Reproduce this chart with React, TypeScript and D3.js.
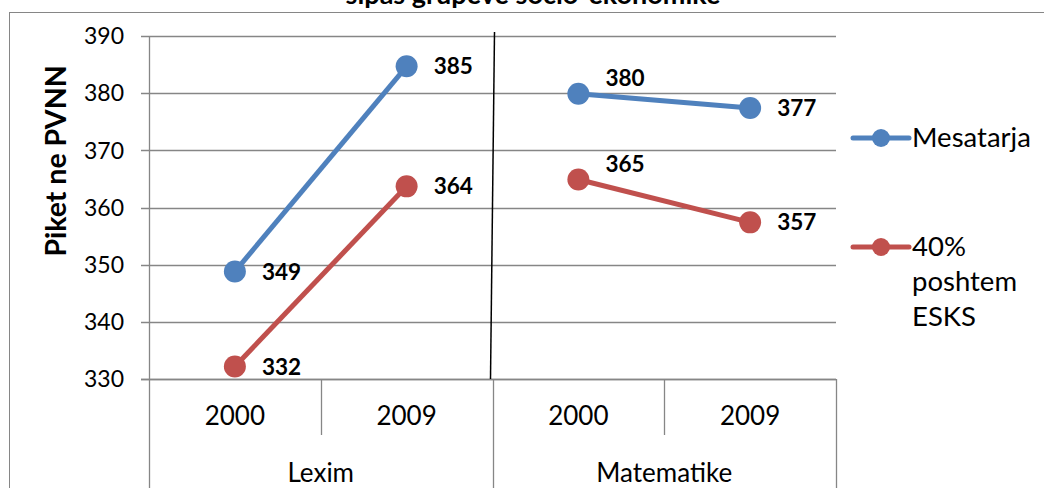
import React, { useEffect, useRef } from "react";
import * as d3 from "d3";

// chart values
const subjects = ["Lexim", "Matematike"];
const years = ["2000", "2009"];
const seriesNames = ["Mesatarja", "40% poshtem ESKS"];
const mesatarja = [348.8, 384.7, 379.9, 377.4];
const poshtem = [332.2, 363.7, 364.9, 357.4];
const yTicks = [330, 340, 350, 360, 370, 380, 390];
const title = "sipas grupeve socio-ekonomike";
const yTitle = "Piket ne PVNN";

const colors = ["#4F81BD", "#C0504D"];
const gridColor = "#868686";
const font = "Lato, 'Open Sans', sans-serif";
// manual label lift (px) per category, the 2000 Matematike labels sit higher
const labelLift = [0, 0, 16, 0];

export default function App() {
  const ref = useRef<SVGSVGElement>(null);

  const width = 1044;
  const height = 488;
  const margin = { top: 36, right: 208, bottom: 109, left: 149 };

  useEffect(() => {
    const svg = d3.select(ref.current);
    svg.selectAll("*").remove();

    const cats = subjects.flatMap((s) => years.map((y) => s + "|" + y));
    const x = d3
      .scaleBand()
      .domain(cats)
      .range([margin.left, width - margin.right])
      .padding(0);
    const y = d3
      .scaleLinear()
      .domain([330, 390])
      .range([height - margin.bottom, margin.top]);
    const x0 = margin.left;
    const x1 = width - margin.right;
    const yBase = y(330);

    // outer chart border
    svg
      .append("rect")
      .attr("x", 9.5)
      .attr("y", 12.5)
      .attr("width", width + 20)
      .attr("height", height + 20)
      .attr("fill", "white")
      .attr("stroke", gridColor)
      .attr("stroke-width", 1);

    // title (its first line lies above the visible area)
    svg
      .append("text")
      .attr("x", 533)
      .attr("y", 4)
      .attr("text-anchor", "middle")
      .attr("font-family", font)
      .attr("font-weight", "bold")
      .attr("font-size", 27)
      .text(title);

    // gridlines + y ticks
    const yg = svg.append("g");
    yTicks.forEach((t) => {
      yg.append("line")
        .attr("x1", x0 - 8)
        .attr("x2", x1)
        .attr("y1", Math.round(y(t)) + 0.5)
        .attr("y2", Math.round(y(t)) + 0.5)
        .attr("stroke", gridColor)
        .attr("stroke-width", 1.3);
      yg.append("text")
        .attr("x", 124)
        .attr("y", y(t))
        .attr("dy", "0.36em")
        .attr("text-anchor", "end")
        .attr("font-family", font)
        .attr("font-size", 23)
        .attr("fill", "#000")
        .text(t);
    });
    yg.append("line")
      .attr("x1", x0 + 0.5)
      .attr("x2", x0 + 0.5)
      .attr("y1", y(390))
      .attr("y2", yBase)
      .attr("stroke", gridColor)
      .attr("stroke-width", 1.3);

    svg
      .append("text")
      .attr("transform", `translate(66,161) rotate(-90)`)
      .attr("text-anchor", "middle")
      .attr("font-family", font)
      .attr("font-weight", "bold")
      .attr("font-size", 28.5)
      .text(yTitle);

    // x axis: two-level category axis
    const xg = svg.append("g");
    cats.forEach((c, i) => {
      const left = x(c)!;
      const isGroupEdge = i % years.length === 0;
      xg.append("line")
        .attr("x1", Math.round(left) + 0.5)
        .attr("x2", Math.round(left) + 0.5)
        .attr("y1", yBase)
        .attr("y2", isGroupEdge ? height : yBase + 56)
        .attr("stroke", gridColor)
        .attr("stroke-width", 1.3);
      xg.append("text")
        .attr("x", left + x.bandwidth() / 2)
        .attr("y", yBase + 46)
        .attr("text-anchor", "middle")
        .attr("font-family", font)
        .attr("font-size", 26)
        .text(c.split("|")[1]);
    });
    xg.append("line")
      .attr("x1", x1 + 0.5)
      .attr("x2", x1 + 0.5)
      .attr("y1", yBase)
      .attr("y2", height)
      .attr("stroke", gridColor)
      .attr("stroke-width", 1.3);
    subjects.forEach((s) => {
      const a = x(s + "|" + years[0])!;
      xg.append("text")
        .attr("x", a + x.bandwidth())
        .attr("y", yBase + 103)
        .attr("text-anchor", "middle")
        .attr("font-family", font)
        .attr("font-size", 26)
        .text(s);
    });
    xg.append("line")
      .attr("x1", x0 - 8)
      .attr("x2", x1)
      .attr("y1", Math.round(yBase) + 0.5)
      .attr("y2", Math.round(yBase) + 0.5)
      .attr("stroke", gridColor)
      .attr("stroke-width", 1.3);

    // hand-drawn separator between subjects
    const sep = x(subjects[1] + "|" + years[0])!;
    svg
      .append("line")
      .attr("x1", sep + 2)
      .attr("y1", 32)
      .attr("x2", sep - 2)
      .attr("y2", yBase)
      .attr("stroke", "#000")
      .attr("stroke-width", 1.5);

    // series
    const series = [mesatarja, poshtem];
    const cx = (i: number) => x(cats[i])! + x.bandwidth() / 2;
    series.forEach((vals, si) => {
      const g = svg.append("g");
      subjects.forEach((s, k) => {
        const idx = years.map((_, j) => k * years.length + j);
        g.append("path")
          .datum(idx)
          .attr(
            "d",
            d3
              .line<number>()
              .x((i) => cx(i))
              .y((i) => y(vals[i]))
          )
          .attr("fill", "none")
          .attr("stroke", colors[si])
          .attr("stroke-width", 5);
      });
      g.selectAll("circle")
        .data(vals)
        .enter()
        .append("circle")
        .attr("cx", (d, i) => cx(i))
        .attr("cy", (d) => y(d))
        .attr("r", 11)
        .attr("fill", colors[si]);
      g.selectAll("text")
        .data(vals)
        .enter()
        .append("text")
        .attr("x", (d, i) => cx(i) + 27)
        .attr("y", (d, i) => y(d) - labelLift[i])
        .attr("dy", "0.36em")
        .attr("font-family", font)
        .attr("font-weight", "bold")
        .attr("font-size", 22.5)
        .text((d) => d3.format(".0f")(d));
    });

    // legend
    const lg = svg.append("g");
    const legendY = [138, 247];
    seriesNames.forEach((name, si) => {
      const ly = legendY[si];
      lg.append("line")
        .attr("x1", 853)
        .attr("x2", 909)
        .attr("y1", ly)
        .attr("y2", ly)
        .attr("stroke", colors[si])
        .attr("stroke-width", 5)
        .attr("stroke-linecap", "round");
      lg.append("circle")
        .attr("cx", 881)
        .attr("cy", ly)
        .attr("r", 9)
        .attr("fill", colors[si]);
      const words = si === 0 ? [name] : ["40%", "poshtem", "ESKS"];
      words.forEach((w, j) => {
        lg.append("text")
          .attr("x", 912)
          .attr("y", ly + 9 + j * 35)
          .attr("font-family", font)
          .attr("font-size", 27.5)
          .text(w);
      });
    });
  }, []);

  return (
    <svg
      ref={ref}
      width={width}
      height={height}
      style={{ position: "absolute", left: 0, top: 0, backgroundColor: "white" }}
    />
  );
}
